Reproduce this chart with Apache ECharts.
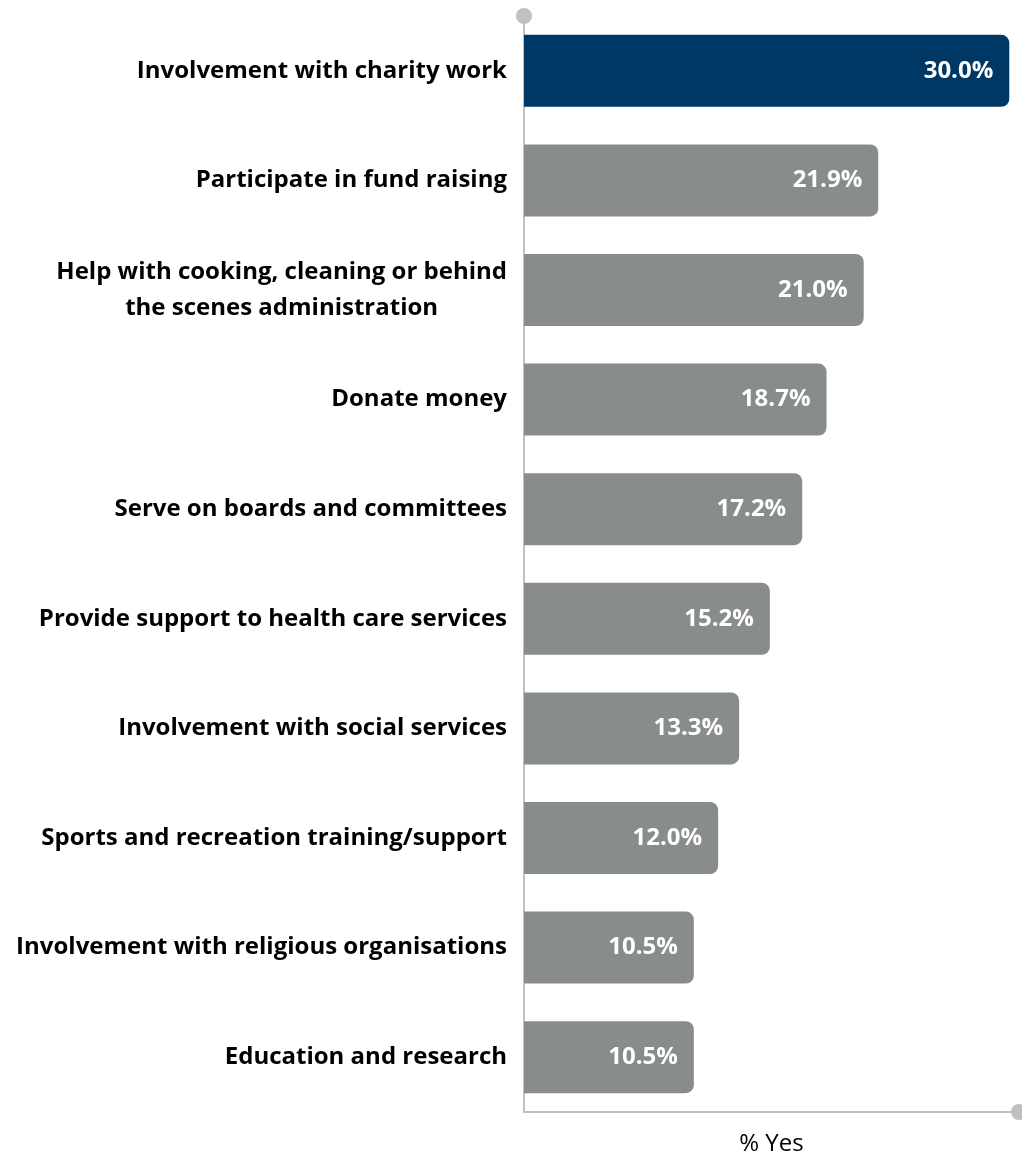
<!DOCTYPE html>
<html><head><meta charset="utf-8">
<script src="https://cdn.jsdelivr.net/npm/echarts@6/dist/echarts.min.js"></script>
<style>html,body{margin:0;padding:0;background:#fff}#c{width:1022px;height:1160px}</style>
</head><body><div id="c"></div>
<script>
var categories = [
  "Involvement with charity work",
  "Participate in fund raising",
  "Help with cooking, cleaning or behind\nthe scenes administration",
  "Donate money",
  "Serve on boards and committees",
  "Provide support to health care services",
  "Involvement with social services",
  "Sports and recreation training/support",
  "Involvement with religious organisations",
  "Education and research"
];
var values = [30.0, 21.9, 21.0, 18.7, 17.2, 15.2, 13.3, 12.0, 10.5, 10.5];
var axisName = "% Yes";

var cats = categories.slice().reverse();
var vals = values.slice().reverse();
var data = vals.map(function (v, i) {
  var top = (i === vals.length - 1);
  return { value: v, itemStyle: { color: top ? '#003865' : '#898c8d' } };
});

var chart = echarts.init(document.getElementById('c'));
chart.setOption({
  animation: false,
  grid: { left: 524, right: 3, top: 16, bottom: 48, containLabel: false, outerBoundsMode: 'none' },
  xAxis: {
    type: 'value', min: 0, max: 30.6,
    name: axisName, nameLocation: 'middle', nameGap: 20,
    nameTextStyle: { fontFamily: 'Open Sans', fontSize: 24, color: '#000' },
    axisLine: { show: true, lineStyle: { color: '#c0c0c0', width: 2 }, symbol: ['none', 'circle'], symbolSize: [16, 16] },
    axisTick: { show: false }, axisLabel: { show: false }, splitLine: { show: false }
  },
  yAxis: {
    type: 'category', data: cats,
    axisLine: { show: true, lineStyle: { color: '#c0c0c0', width: 2 }, symbol: ['none', 'circle'], symbolSize: [16, 16] },
    axisTick: { show: false },
    axisLabel: {
      margin: 17, align: 'right',
      formatter: function (s) {
        return s.split('\n').map(function (l) { return '{c|' + l + '}'; }).join('\n');
      },
      rich: { c: { align: 'center', fontFamily: 'Open Sans', fontWeight: 'bold', fontSize: 24, color: '#000', lineHeight: 36 } }
    }
  },
  series: [{
    type: 'bar', data: data, barWidth: 72,
    itemStyle: { borderRadius: [0, 8, 8, 0] },
    label: {
      show: true, position: 'insideRight', distance: 16,
      formatter: function (p) { return p.value.toFixed(1) + '%'; },
      fontFamily: 'Open Sans', fontWeight: 'bold', fontSize: 24, color: '#fff'
    }
  }]
});
</script></body></html>
